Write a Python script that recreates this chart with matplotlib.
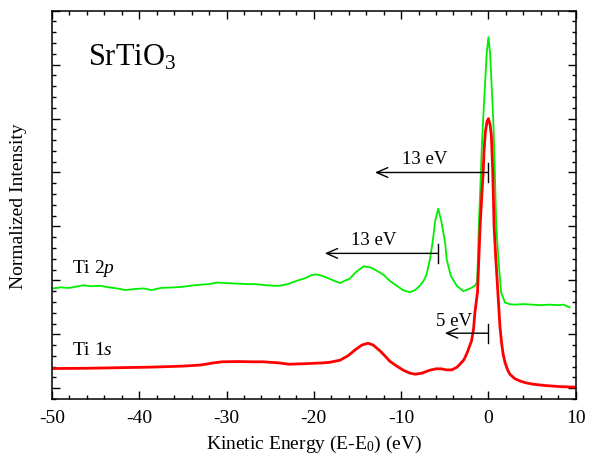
import matplotlib
matplotlib.use('Agg')
import matplotlib.pyplot as plt
from matplotlib.ticker import MultipleLocator, NullFormatter

plt.rcParams['font.family'] = ['Liberation Serif', 'DejaVu Serif']
plt.rcParams['mathtext.fontset'] = 'custom'
plt.rcParams['mathtext.rm'] = 'Liberation Serif'
plt.rcParams['mathtext.it'] = 'Liberation Serif:italic'
plt.rcParams['axes.unicode_minus'] = False

# Ti 1s (red)
e_1s = [-50, -46, -42.6, -39, -36.9, -35, -33, -31.5, -30.5, -28.8, -27, -25.8, -24,
        -22.9, -21, -19, -18.2, -17, -16.1, -15.2, -14.5, -13.8, -13.2, -12.4, -11.8,
        -11.3, -10.5, -9.7, -9, -8.4, -7.6, -6.8, -6.0, -5.4, -4.8, -4.2, -3.6, -3.26,
        -2.8, -2.43, -1.93, -1.7, -1.55, -1.25, -1.1, -0.95, -0.75, -0.6, -0.5, -0.35,
        -0.15, 0, 0.2, 0.34, 0.5, 0.65, 0.85, 1.0, 1.15, 1.32, 1.5, 1.7, 1.9, 2.2, 2.46,
        3.0, 3.6, 4.3, 5.13, 6.5, 8.2, 10]
i_1s = [0.365, 0.37, 0.38, 0.39, 0.40, 0.41, 0.43, 0.47, 0.49, 0.495, 0.49, 0.49, 0.47,
        0.445, 0.455, 0.47, 0.48, 0.52, 0.6, 0.72, 0.80, 0.835, 0.8, 0.69, 0.59,
        0.5, 0.41, 0.33, 0.28, 0.26, 0.28, 0.33, 0.36, 0.36, 0.34, 0.34, 0.39, 0.445,
        0.53, 0.66, 0.88, 1.1, 1.4, 1.78, 2.39, 3.0, 3.6, 4.0, 4.4, 4.75,
        4.95, 5.0, 4.88, 4.68, 4.0, 3.0, 2.39, 2.0, 1.6, 1.15, 0.85, 0.62, 0.48, 0.34, 0.26,
        0.18, 0.135, 0.1, 0.074, 0.05, 0.03, 0.02]

# Ti 2p (green)
e_2p = [-50, -49, -48, -47, -46.4, -45.5, -44.5, -43.5, -42.5, -41.6, -40.5, -39.5,
        -38.6, -37.5, -36, -35, -34.2, -33, -32, -31.1, -30, -28.8, -27.5, -26.7, -25.5,
        -24.5, -23.9, -23, -22, -21, -20.2, -19.7, -19, -18.2, -17.5, -17, -16.5, -15.9,
        -15.2, -14.3, -13.5, -12.8, -12.0, -11.3, -10.5, -9.8, -9.0, -8.4, -7.85, -7.4,
        -7.1, -6.7, -6.4, -6.1, -5.75, -5.4, -4.96, -4.78, -4.3, -3.63, -2.88, -2.2,
        -1.55, -1.3, -1.2, -1.1, -0.86, -0.78, -0.6, -0.4, -0.2, 0, 0.2, 0.37, 0.55,
        0.67, 0.74, 0.9, 1.15, 1.45, 1.9, 2.4, 3, 4, 5, 6, 7, 8, 8.6, 9, 9.3]
i_2p = [1.85, 1.87, 1.86, 1.89, 1.91, 1.89, 1.9, 1.87, 1.85, 1.82, 1.84, 1.85,
        1.82, 1.86, 1.87, 1.88, 1.9, 1.92, 1.93, 1.96, 1.95, 1.94, 1.93, 1.93, 1.91,
        1.9, 1.9, 1.93, 1.99, 2.04, 2.1, 2.11, 2.08, 2.03, 1.98, 1.95, 1.99, 2.03,
        2.15, 2.26, 2.24, 2.18, 2.1, 1.99, 1.9, 1.82, 1.78, 1.82, 1.9, 2.0,
        2.1, 2.39, 2.7, 3.1, 3.33, 3.1, 2.7, 2.39, 2.08, 1.9, 1.8, 1.84,
        1.9, 1.96, 2.39, 3.0, 4.0, 4.38, 5.0, 5.6, 6.2, 6.51, 6.2, 5.6, 5.0,
        4.38, 4.0, 3.0, 2.39, 1.78, 1.59, 1.56, 1.55, 1.56, 1.55, 1.54, 1.55, 1.54, 1.55, 1.52, 1.5]

# energy-loss arrows: start, end, height, label
arrow_start = [0, -5.75, 0]
arrow_end = [-13, -18.75, -5]
arrow_y = [4.0, 2.5, 1.02]
arrow_text = ['13 eV', '13 eV', '5 eV']
text_x = [-7.3, -13.1, -3.9]
text_y = [4.1, 2.6, 1.1]

fig = plt.figure(figsize=(5.89, 4.60), dpi=100)
ax = fig.add_axes([0.0883, 0.1304, 0.8891, 0.8442])

ax.plot(e_2p, i_2p, color='#00ee00', lw=1.3)
ax.plot(e_1s, i_1s, color='#ff0000', lw=2.0)

for x0, x1, y, t, tx, ty in zip(arrow_start, arrow_end, arrow_y, arrow_text, text_x, text_y):
    ax.annotate('', xy=(x1, y), xytext=(x0, y),
                arrowprops=dict(arrowstyle='->,head_length=0.8,head_width=0.35',
                                lw=1.0, color='black', shrinkA=0, shrinkB=0))
    ax.plot([x0, x0], [y - 0.18, y + 0.18], color='black', lw=1.0)
    ax.text(tx, ty, t, fontsize=13.5, ha='center', va='bottom')

ax.text(-45.9, 6.0, 'SrTiO$_3$', fontsize=22, va='baseline')
ax.text(-47.75, 2.15, 'Ti 2$p$', fontsize=14, va='baseline')
ax.text(-47.75, 0.63, 'Ti 1$s$', fontsize=14, va='baseline')

ax.set_xlim(-50, 10)
ax.set_ylim(-0.2, 7.0)
ax.xaxis.set_major_locator(MultipleLocator(10))
ax.xaxis.set_minor_locator(MultipleLocator(2))
ax.yaxis.set_major_locator(MultipleLocator(1))
ax.yaxis.set_minor_locator(MultipleLocator(0.2))
ax.yaxis.set_major_formatter(NullFormatter())
ax.tick_params(which='both', direction='in', top=True, right=True, width=1.0)
ax.tick_params(which='major', length=6, labelsize=14, pad=7)
ax.tick_params(which='minor', length=3)
for s in ax.spines.values():
    s.set_linewidth(1.1)

ax.set_xlabel('Kinetic Energy (E-E$_0$) (eV)', fontsize=14, labelpad=5)
ax.set_ylabel('Normalized Intensity', fontsize=14, labelpad=11)

fig.savefig('out.png', dpi=100)
